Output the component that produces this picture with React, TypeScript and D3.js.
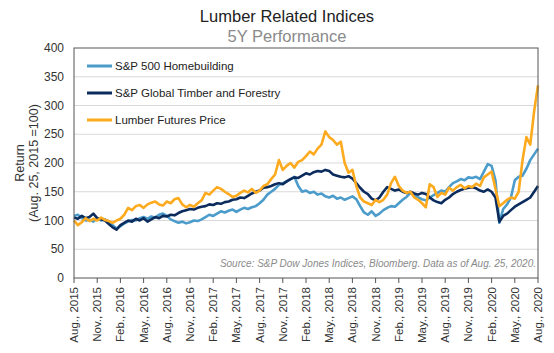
import * as d3 from "d3";

// half-month steps starting Aug. 25, 2015 (index 0) to Aug. 25, 2020 (index 120)
const homebuilding = [
  108, 110, 104, 100, 101, 98, 104, 100, 102, 98, 92, 86, 90, 95, 98, 101, 100, 104, 106, 103,
  107, 105, 110, 112, 108, 102, 99, 96, 98, 95, 97, 100, 99, 102, 106, 110, 108, 112, 116, 114,
  117, 119, 115, 119, 122, 120, 123, 125, 130, 136, 145, 150, 155, 162, 165, 168, 172, 176, 160, 150,
  152, 148, 150, 145, 147, 142, 140, 143, 138, 140, 136, 139, 142, 137, 125, 114, 110, 116, 108, 112,
  118, 122, 125, 124, 130, 136, 141, 148, 145, 140, 137, 135, 140, 144, 148, 152, 150, 158, 165, 168,
  172, 170, 175, 174, 176, 172, 185, 198, 195, 170, 96, 120, 128, 140, 170, 176, 178, 190, 205, 215,
  225,
];

const timber = [
  105, 103, 108, 104, 106, 112, 104, 102, 100, 94, 88, 84, 92, 96, 100, 98, 103, 100, 104, 98,
  102, 106, 104, 108, 107, 110, 109, 113, 116, 118, 120, 119, 122, 124, 125, 128, 127, 130, 129, 132,
  133, 136, 137, 140, 139, 143, 147, 150, 152, 157, 158, 160, 163, 165, 163, 168, 172, 175, 174, 178,
  182, 180, 184, 186, 185, 188, 186, 180, 178, 176, 175, 177, 173, 165, 157, 150, 146, 138, 135, 140,
  150, 158, 155, 152, 154, 150, 148, 150, 147, 145, 148, 146, 140, 135, 132, 130, 136, 140, 146, 150,
  153, 155, 157, 158, 156, 152, 150, 154, 150, 140, 98, 108, 112, 118, 124, 128, 132, 136, 140, 150,
  160,
];

const lumber = [
  100, 92, 97, 104, 99, 103, 100, 105, 101, 99, 96, 100, 103, 110, 122, 118, 125, 127, 122, 128,
  131, 133, 128, 126, 133, 130, 137, 139, 128, 123, 127, 124, 130, 135, 148, 145, 152, 158, 155, 150,
  146, 141, 143, 148, 152, 149, 155, 148, 152, 160, 163, 172, 180, 205, 188, 195, 200, 192, 202, 205,
  212, 220, 215, 225, 232, 255, 245, 240, 232, 237, 200, 183, 188, 160, 140, 133, 130, 127, 136, 132,
  136, 145, 165, 176, 160, 152, 148, 150, 140, 136, 130, 123, 163, 158, 141, 148, 145, 157, 152, 158,
  162, 156, 160, 158, 164, 160, 175, 180, 185, 155, 125, 130, 136, 140, 138, 150, 205, 245, 232, 290,
  335,
];

const xTickLabels = [
  "Aug., 2015", "Nov., 2015", "Feb., 2016", "May., 2016", "Aug., 2016", "Nov., 2016", "Feb., 2017",
  "May., 2017", "Aug., 2017", "Nov., 2017", "Feb., 2018", "May., 2018", "Aug., 2018", "Nov., 2018",
  "Feb., 2019", "May., 2019", "Aug., 2019", "Nov., 2019", "Feb., 2020", "May., 2020", "Aug., 2020",
];
const yTicks = [0, 50, 100, 150, 200, 250, 300, 350, 400];

const series = [
  { name: "S&P 500 Homebuilding", values: homebuilding, color: "#4b9ccb" },
  { name: "S&P Global Timber and Forestry", values: timber, color: "#0c2c5e" },
  { name: "Lumber Futures Price", values: lumber, color: "#fdaa1f" },
];

const W = 554;
const H = 353;
const margin = { top: 48, right: 16, bottom: 75, left: 74 };
const FONT = "'Liberation Sans', Arial, sans-serif";

export default function App() {
  const innerW = W - margin.left - margin.right;
  const innerH = H - margin.top - margin.bottom;
  const x = d3.scaleLinear().domain([0, 120]).range([0, innerW]);
  const y = d3.scaleLinear().domain([0, 400]).range([innerH, 0]);
  const line = d3
    .line<number>()
    .x((_, i) => x(i))
    .y((d) => y(d));

  return (
    <svg
      width={W}
      height={H}
      style={{ position: "absolute", left: 0, top: 0, background: "#fff", fontFamily: FONT }}
    >
      <text x={287} y={22} textAnchor="middle" fontSize={16.5} fill="#222">
        Lumber Related Indices
      </text>
      <text x={287} y={42} textAnchor="middle" fontSize={16.5} fill="#8a8a8a">
        5Y Performance
      </text>

      {/* y axis title */}
      <g transform={`translate(20,${margin.top + innerH / 2}) rotate(-90)`}>
        <text textAnchor="middle" dy="0.35em" fontSize={12.5} fill="#333">
          Return
        </text>
        <text y={14} textAnchor="middle" dy="0.35em" fontSize={12.5} fill="#333">
          (Aug. 25, 2015 =100)
        </text>
      </g>

      <g transform={`translate(${margin.left},${margin.top})`}>
        {/* grid */}
        {yTicks.slice(1, -1).map((t) => (
          <line key={t} x1={0} x2={innerW} y1={y(t)} y2={y(t)} stroke="#d9d9d9" strokeWidth={1} />
        ))}
        {yTicks.map((t) => (
          <text key={t} x={-10} y={y(t)} dy="0.35em" textAnchor="end" fontSize={12} fill="#333">
            {t}
          </text>
        ))}

        {/* series */}
        {series.map((s) => (
          <path
            key={s.name}
            d={line(s.values) ?? ""}
            fill="none"
            stroke={s.color}
            strokeWidth={2.6}
            strokeLinejoin="round"
          />
        ))}

        {/* frame */}
        <rect x={0} y={0} width={innerW} height={innerH} fill="none" stroke="#555" strokeWidth={1} />

        {/* x ticks */}
        {xTickLabels.map((lab, i) => (
          <g key={lab} transform={`translate(${x(i * 6)},${innerH})`}>
            <line y1={0} y2={5} stroke="#555" />
            <text
              transform="rotate(-90)"
              x={-9}
              dy="0.35em"
              textAnchor="end"
              fontSize={11.5}
              fill="#333"
            >
              {lab}
            </text>
          </g>
        ))}

        {/* legend */}
        {series.map((s, i) => (
          <g key={s.name} transform={`translate(13,${18 + i * 27})`}>
            <line x1={0} x2={25} y1={0} y2={0} stroke={s.color} strokeWidth={3} />
            <text x={28} dy="0.35em" fontSize={11.5} fill="#222">
              {s.name}
            </text>
          </g>
        ))}

        <text
          x={innerW - 2}
          y={innerH - 11}
          textAnchor="end"
          fontSize={10}
          fontStyle="italic"
          fill="#8a8a8a"
        >
          Source: S&amp;P Dow Jones Indices, Bloomberg. Data as of Aug. 25, 2020.
        </text>
      </g>
    </svg>
  );
}
